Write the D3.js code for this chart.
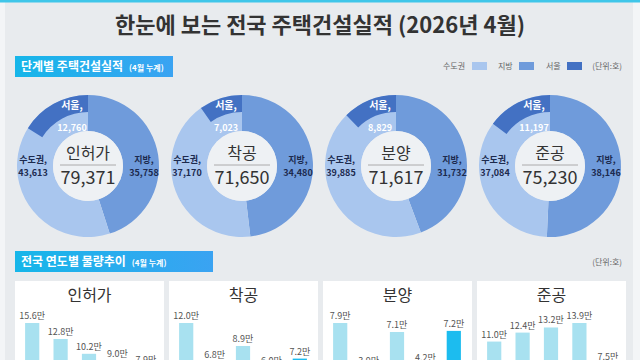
<!DOCTYPE html>
<html>
<head>
<meta charset="utf-8">
<script src="https://cdn.jsdelivr.net/npm/d3@7"></script>
<style>
  html, body { margin: 0; padding: 0; background: #f3f5f7; }
  svg { display: block; font-family: "Noto Sans CJK KR", "Noto Sans", sans-serif; }
</style>
</head>
<body>
<svg id="chart" width="640" height="360"></svg>
<script>
// stage totals (4월 누계, 단위: 호)
const stages = ["인허가", "착공", "분양", "준공"];
const metroValues = [43613, 37170, 39885, 37084];   // 수도권
const localValues = [35758, 34480, 31732, 38146];   // 지방
const seoulValues = [12760, 7023, 8829, 11197];     // 서울 (수도권 중)
const totalValues = [79371, 71650, 71617, 75230];

// yearly trend (4월 누계, 만 호)
const trendYears = ["2022", "2023", "2024", "2025", "2026"];
const permitTrend = [15.6, 12.8, 10.2, 9.0, 7.9];
const startTrend = [12.0, 6.8, 8.9, 6.0, 7.2];
const saleTrend = [7.9, 3.9, 7.1, 4.2, 7.2];
const completionTrend = [11.0, 12.4, 13.2, 13.9, 7.5];
const trends = [permitTrend, startTrend, saleTrend, completionTrend];

const legendLabels = ["수도권", "지방", "서울"];

const colors = {
  metro: "#a9c6ee",
  local: "#6f9bdb",
  seoul: "#4371c3",
  hole: "#eef1f4",
  navy: "#1c2a4e",
  bar: "#a8e1f0",
  barLast: "#1cbcef"
};

const svg = d3.select("#chart");
const fmt = d3.format(",");

// page background
svg.append("rect").attr("x", 0).attr("y", 0).attr("width", 640).attr("height", 360).attr("fill", "#f3f5f7");
svg.append("rect").attr("x", 5).attr("y", 0).attr("width", 628).attr("height", 360).attr("fill", "#e8ebee");
svg.append("rect").attr("x", 0).attr("y", 0).attr("width", 640).attr("height", 2.5).attr("fill", "#3fc6e9");

// gradient for section headers
const defs = svg.append("defs");
const grad = defs.append("linearGradient").attr("id", "hdr").attr("x1", "0%").attr("x2", "100%");
grad.append("stop").attr("offset", "0%").attr("stop-color", "#16b6e9");
grad.append("stop").attr("offset", "100%").attr("stop-color", "#3aa3f2");

// title
svg.append("text")
  .attr("x", 320).attr("y", 33)
  .attr("text-anchor", "middle")
  .attr("font-size", 22).attr("font-weight", 700).attr("fill", "#333")
  .text("한눈에 보는 전국 주택건설실적 (2026년 4월)");

function sectionHeader(x, y, w, title) {
  svg.append("rect").attr("x", x).attr("y", y).attr("width", w).attr("height", 21).attr("fill", "url(#hdr)");
  const t = svg.append("text").attr("x", x + 6).attr("y", y + 15).attr("fill", "#fff");
  t.append("tspan").attr("font-size", 12).attr("font-weight", 700).text(title);
  t.append("tspan").attr("dx", 6).attr("font-size", 8).attr("font-weight", 700).text("(4월 누계)");
}

sectionHeader(15, 56, 158, "단계별 주택건설실적");
sectionHeader(15, 251, 198, "전국 연도별 물량추이");

// legend
const legendX = [443, 498, 546];
const legendColors = [colors.metro, colors.local, colors.seoul];
legendLabels.forEach((lab, i) => {
  svg.append("text").attr("x", legendX[i]).attr("y", 69)
    .attr("font-size", 8).attr("fill", "#666").text(lab);
  const tw = lab.length * 8;
  svg.append("rect").attr("x", legendX[i] + tw + 5).attr("y", 62).attr("width", 15).attr("height", 8)
    .attr("fill", legendColors[i]);
});
svg.append("text").attr("x", 622).attr("y", 69).attr("text-anchor", "end")
  .attr("font-size", 8).attr("fill", "#666").text("(단위:호)");

// donuts
const outerR = 71, innerR = 35, seoulInner = 54;
const donutY = 166;
const pie = d3.pie().sort(null);
const ringArc = d3.arc().innerRadius(innerR).outerRadius(outerR);
const seoulArc = d3.arc().innerRadius(seoulInner).outerRadius(outerR);

stages.forEach((stage, i) => {
  const cx = 88 + i * 154;
  const g = svg.append("g").attr("transform", `translate(${cx},${donutY})`);
  const slices = pie([localValues[i], metroValues[i]]);
  g.selectAll("path.ring").data(slices).join("path")
    .attr("class", "ring")
    .attr("d", ringArc)
    .attr("fill", (d, j) => j === 0 ? colors.local : colors.metro);

  const ang = d3.scaleLinear().domain([0, totalValues[i]]).range([0, 2 * Math.PI]);
  g.append("path")
    .attr("d", seoulArc({ startAngle: 2 * Math.PI - ang(seoulValues[i]), endAngle: 2 * Math.PI }))
    .attr("fill", colors.seoul);

  g.append("circle").attr("r", innerR).attr("fill", colors.hole);
  g.append("line").attr("x1", -28).attr("x2", 28).attr("y1", -1).attr("y2", -1)
    .attr("stroke", "#9a9a9a").attr("stroke-width", 0.8);

  g.append("text").attr("y", -7).attr("text-anchor", "middle")
    .attr("font-size", 16).attr("fill", "#333").text(stage);
  g.append("text").attr("y", 18).attr("text-anchor", "middle")
    .attr("font-size", 18).attr("fill", "#333").text(fmt(totalValues[i]));

  // side labels
  const side = [[-55, "수도권,", metroValues[i]], [56, "지방,", localValues[i]]];
  side.forEach(([dx, lab, v]) => {
    g.append("text").attr("x", dx).attr("y", -3).attr("text-anchor", "middle")
      .attr("font-size", 9).attr("font-weight", 700).attr("fill", colors.navy).text(lab);
    g.append("text").attr("x", dx).attr("y", 10).attr("text-anchor", "middle")
      .attr("font-size", 9).attr("font-weight", 700).attr("fill", colors.navy).text(fmt(v));
  });

  g.append("text").attr("x", -16).attr("y", -57).attr("text-anchor", "middle")
    .attr("font-size", 10).attr("font-weight", 700).attr("fill", "#fff").text("서울,");
  g.append("text").attr("x", -16).attr("y", -35).attr("text-anchor", "middle")
    .attr("font-size", 9).attr("font-weight", 700).attr("fill", "#fff").text(fmt(seoulValues[i]));
});

// trend unit
svg.append("text").attr("x", 622).attr("y", 265).attr("text-anchor", "end")
  .attr("font-size", 8).attr("fill", "#666").text("(단위:호)");

// trend panels
const panelW = 149, panelY = 281;
const x = d3.scaleBand().domain(trendYears).range([3, 145]).paddingInner(0.5).paddingOuter(0.25);

stages.forEach((stage, i) => {
  const px = 15 + i * 154;
  const g = svg.append("g").attr("transform", `translate(${px},0)`);
  g.append("rect").attr("x", 0).attr("y", panelY).attr("width", panelW).attr("height", 100)
    .attr("fill", "#fff");
  g.append("text").attr("x", panelW / 2).attr("y", 301).attr("text-anchor", "middle")
    .attr("font-size", 16).attr("fill", "#333").text(stage);

  const vals = trends[i];
  const y = d3.scaleLinear().domain([0, d3.max(vals)]).range([412, 323]);
  const data = trendYears.map((yr, j) => ({ yr, v: vals[j], last: j === trendYears.length - 1 }));

  g.selectAll("rect.bar").data(data).join("rect")
    .attr("class", "bar")
    .attr("x", d => x(d.yr))
    .attr("y", d => y(d.v))
    .attr("width", x.bandwidth())
    .attr("height", d => y(0) - y(d.v))
    .attr("fill", d => d.last ? colors.barLast : colors.bar);

  g.selectAll("text.val").data(data).join("text")
    .attr("class", "val")
    .attr("x", d => x(d.yr) + x.bandwidth() / 2)
    .attr("y", d => y(d.v) - 4)
    .attr("text-anchor", "middle")
    .attr("font-size", 9).attr("fill", "#555")
    .text(d => d.v.toFixed(1) + "만");
});
</script>
</body>
</html>
